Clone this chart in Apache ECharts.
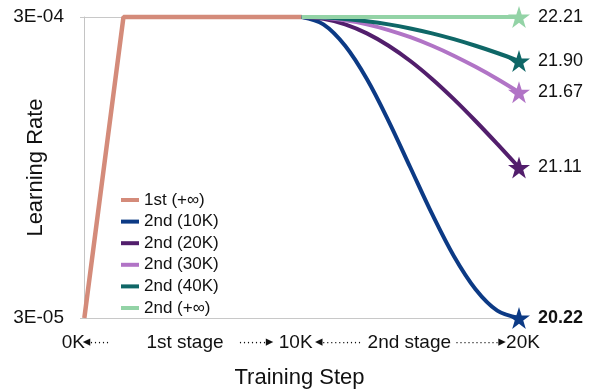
<!DOCTYPE html>
<html>
<head>
<meta charset="utf-8">
<script src="https://cdn.jsdelivr.net/npm/echarts@6/dist/echarts.min.js"></script>
<style>html,body{margin:0;padding:0;background:#fff}#c{width:595px;height:392px}</style>
</head>
<body>
<div id="c"></div>
<script>
// learning rate values in units of 1E-05
const stage1Steps = [0, 1.8, 10];          // K steps
const stage1LR = [3, 30, 30];
const stage2Steps = [10, 11, 12, 13, 14, 15, 16, 17, 18, 19, 20];
const lr10K = [30, 29.34, 27.42, 24.44, 20.67, 16.5, 12.33, 8.56, 5.58, 3.66, 3];
const lr20K = [30, 29.83, 29.34, 28.53, 27.42, 26.05, 24.44, 22.63, 20.67, 18.61, 16.5];
const lr30K = [30, 29.93, 29.70, 29.34, 28.83, 28.19, 27.42, 26.53, 25.53, 24.44, 23.25];
const lr40K = [30, 29.96, 29.83, 29.62, 29.34, 28.97, 28.53, 28.01, 27.42, 26.77, 26.05];
const lrInf = [30, 30, 30, 30, 30, 30, 30, 30, 30, 30, 30];
const seriesNames = ['1st (+∞)', '2nd (10K)', '2nd (20K)', '2nd (30K)', '2nd (40K)', '2nd (+∞)'];
const finalScores = ['20.22', '21.11', '21.67', '21.90', '22.21']; // 10K,20K,30K,40K,+inf
const xTickValues = [0, 10, 20];
const xTickLabels = ['0K', '10K', '20K'];
const stageValues = [5, 15];
const stageLabels = ['1st stage', '2nd stage'];
const yTickLabels = {3: '3E-05', 30: '3E-04'};

const colors = ['#D48B7A', '#0C3A85', '#521E6C', '#B174C6', '#0F6767', '#93D3A6'];
const FONT = 'Liberation Sans, Arial, Helvetica, sans-serif';
const STAR = 'path://M50,0 L61.8,35.1 L98.8,35.1 L68.9,56.9 L80.3,91.9 L50,70.2 L19.7,91.9 L31.1,56.9 L1.2,35.1 L38.2,35.1 Z';

const zip = (xs, ys) => xs.map((x, i) => [x, ys[i]]);
const stage2 = [lr10K, lr20K, lr30K, lr40K, lrInf];

const lineSeries = [
  {name: seriesNames[0], data: zip(stage1Steps, stage1LR), color: colors[0], width: 4.5}
].concat(stage2.map((arr, i) => ({name: seriesNames[i + 1], data: zip(stage2Steps, arr), color: colors[i + 1], width: 4})))
 .map(s => ({
   type: 'line', name: s.name, data: s.data, smooth: s.name === seriesNames[0] ? false : 0.35,
   showSymbol: false, clip: false, color: s.color,
   lineStyle: {width: s.width, color: s.color}, z: 2
 }));

const starData = stage2.map((arr, i) => ({
  value: [stage2Steps[stage2Steps.length - 1], arr[arr.length - 1]],
  itemStyle: {color: colors[i + 1], opacity: 1},
  label: {formatter: finalScores[i], fontWeight: i === 0 ? 'bold' : 'normal'}
}));

// rich-text helpers for the stage annotations under the axis
const rich = {
  a: {fontSize: 15, color: '#111', fontFamily: 'DejaVu Sans', width: 6, align: 'center'},
  d: {fontSize: 12, color: '#111', fontFamily: FONT},
  t: {fontSize: 19, color: '#111', fontFamily: FONT}
};
const gap = w => { const k = 'g' + Math.round(w * 10); rich[k] = {width: w, fontSize: 12}; return '{' + k + '| }'; };
const dots = n => '{d|' + '·'.repeat(n) + '}';
const tickStrings = [
  '{t|' + xTickLabels[0] + '}' + gap(22),
  '{t|' + xTickLabels[1] + '}' + gap(12),
  gap(8) + '{t|' + xTickLabels[2] + '}'
];
const stageStrings = [
  '{a|◂}' + dots(5) + gap(37) + '{t|' + stageLabels[0] + '}' + gap(15) + dots(7) + '{a|▸}' + gap(30),
  '{a|◂}' + dots(10) + gap(6) + '{t|' + stageLabels[1] + '}' + gap(4) + dots(11) + '{a|▸}'
];

const baseX = {
  type: 'value', min: -0.2, max: 20, position: 'bottom', offset: 0,
  axisLine: {show: false}, axisTick: {show: false}, splitLine: {show: false}
};

const chart = echarts.init(document.getElementById('c'), null, {renderer: 'canvas'});
chart.setOption({
  animation: false,
  backgroundColor: '#fff',
  textStyle: {fontFamily: FONT},
  grid: {left: 80, right: 76, top: 17, bottom: 74, outerBoundsMode: 'none', containLabel: false},
  legend: {
    data: seriesNames, orient: 'vertical', left: 116, top: 186,
    icon: 'rect', itemWidth: 18, itemHeight: 4, itemGap: 3.6,
    textStyle: {fontFamily: FONT, fontSize: 17, color: '#111', lineHeight: 18}
  },
  xAxis: [
    Object.assign({}, baseX, {
      name: 'Training Step', nameLocation: 'middle', nameGap: 49, nameMoveOverlap: false,
      nameTextStyle: {fontFamily: FONT, fontSize: 22, color: '#111'},
      axisLabel: {
        customValues: xTickValues, hideOverlap: false, showMinLabel: true, showMaxLabel: true, margin: 15,
        fontFamily: FONT, fontSize: 19, color: '#111',
        formatter: v => { const i = xTickValues.indexOf(v); return i < 0 ? '' : tickStrings[i]; },
        rich: rich
      }
    }),
    Object.assign({}, baseX, {
      axisLabel: {
        customValues: stageValues, hideOverlap: false, showMinLabel: true, showMaxLabel: true, margin: 15,
        fontFamily: FONT, fontSize: 19, color: '#111',
        formatter: v => { const i = stageValues.indexOf(v); return i < 0 ? '' : stageStrings[i]; },
        rich: rich
      }
    })
  ],
  yAxis: {
    type: 'value', min: 3, max: 30, interval: 27,
    name: 'Learning Rate', nameLocation: 'middle', nameGap: 33, nameMoveOverlap: false,
    nameTextStyle: {fontFamily: FONT, fontSize: 22, color: '#111'},
    axisLine: {show: true, lineStyle: {color: '#c4c4c4', width: 1}},
    axisTick: {show: false},
    splitLine: {show: true, lineStyle: {color: '#c8c8c8', width: 1}},
    axisLabel: {margin: 16, fontFamily: FONT, fontSize: 19, color: '#111',
      formatter: v => yTickLabels[Math.round(v)] || ''}
  },
  series: lineSeries.concat([{
    type: 'scatter', name: 'final', data: starData, symbol: STAR, symbolSize: 22,
    clip: false, z: 5, itemStyle: {opacity: 1},
    label: {show: true, position: 'right', distance: 8, fontFamily: FONT, fontSize: 18, color: '#111'}
  }])
});
</script>
</body>
</html>
